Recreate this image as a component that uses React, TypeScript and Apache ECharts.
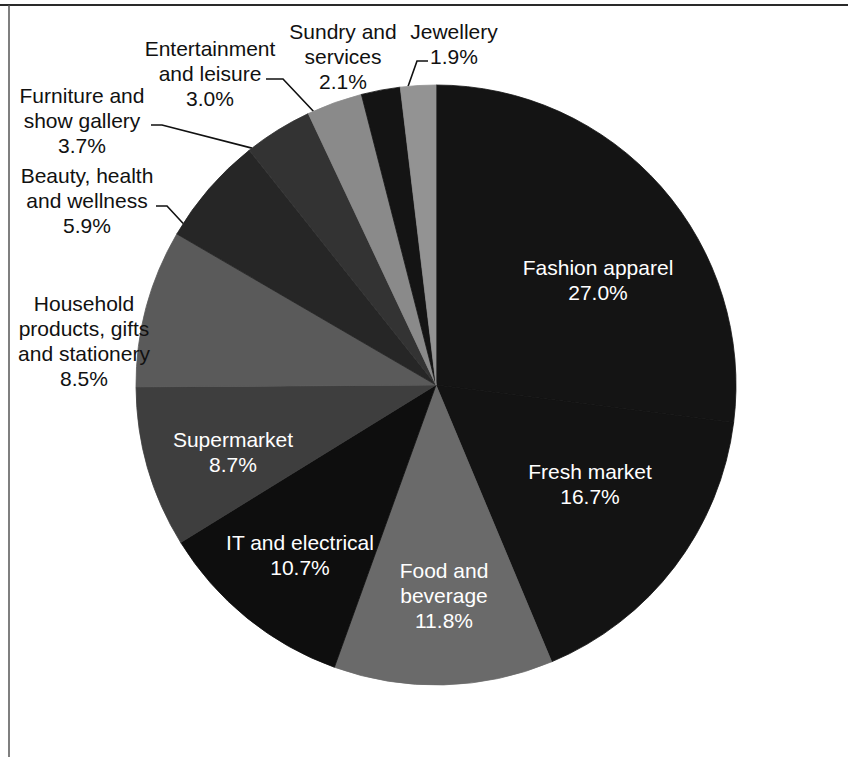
import React, { useEffect, useRef } from "react";
import * as echarts from "echarts";

// ---- data ----
const categories = [
  "Fashion apparel",
  "Fresh market",
  "Food and beverage",
  "IT and electrical",
  "Supermarket",
  "Household products, gifts and stationery",
  "Beauty, health and wellness",
  "Furniture and show gallery",
  "Entertainment and leisure",
  "Sundry and services",
  "Jewellery",
];
const values = [27.0, 16.7, 11.8, 10.7, 8.7, 8.5, 5.9, 3.7, 3.0, 2.1, 1.9];
const labelTexts = [
  "Fashion apparel",
  "Fresh market",
  "Food and\nbeverage",
  "IT and electrical",
  "Supermarket",
  "Household\nproducts, gifts\nand stationery",
  "Beauty, health\nand wellness",
  "Furniture and\nshow gallery",
  "Entertainment\nand leisure",
  "Sundry and\nservices",
  "Jewellery",
];
const sliceColors = [
  "#141414", "#131313", "#6a6a6a", "#0e0e0e", "#3e3e3e", "#5a5a5a",
  "#262626", "#333333", "#8a8a8a", "#141414", "#939393",
];

// ---- layout (label placement) ----
const CX = 436;
const CY = 385;
const R = 300;
const labelCenters: [number, number][] = [
  [598, 280], [590, 484], [444, 595], [300, 555], [233, 452], [84, 341],
  [87, 200], [82, 120], [210, 73], [343, 56], [454, 44],
];
const whiteText = [true, true, true, true, true, false, false, false, false, false, false];
// leader lines: end point near text, elbow, anchor fraction inside the slice
const leaders: Record<number, { end: [number, number]; elbow: [number, number]; frac: number }> = {
  6: { end: [156, 206], elbow: [167, 206], frac: 0.11 },
  7: { end: [151, 125], elbow: [162, 125], frac: 0.05 },
  8: { end: [266, 79], elbow: [283, 79], frac: 0.1 },
  10: { end: [428, 61], elbow: [417, 61], frac: 0.22 },
};

const FONT = "'Liberation Sans', Arial, Helvetica, sans-serif";

export default function App() {
  const ref = useRef<HTMLDivElement>(null);
  useEffect(() => {
    if (!ref.current) return;
    const chart = echarts.init(ref.current, null, { renderer: "svg" });
    const total = values.reduce((a, b) => a + b, 0);
    const starts: number[] = [];
    let acc = 0;
    values.forEach((v) => {
      starts.push(acc);
      acc += v;
    });
    const anchorOf = (i: number, frac: number): [number, number] => {
      const deg = ((starts[i] + values[i] * frac) / total) * 360;
      const rad = (deg * Math.PI) / 180;
      return [CX + R * Math.sin(rad), CY - R * Math.cos(rad)];
    };

    const data = categories.map((name, i) => {
      const hasLeader = leaders[i] != null;
      return {
        name,
        value: values[i],
        itemStyle: { color: sliceColors[i], borderColor: sliceColors[i], borderWidth: 0.8 },
        label: {
          formatter: labelTexts[i] + "\n" + values[i].toFixed(1) + "%",
          color: whiteText[i] ? "#ffffff" : "#111111",
        },
        labelLine: {
          show: hasLeader,
          lineStyle: { color: "#111111", width: 1.6 },
        },
      };
    });

    chart.setOption({
      animation: false,
      backgroundColor: "#ffffff",
      graphic: [
        {
          type: "line",
          shape: { x1: 0, y1: 5, x2: 848, y2: 5 },
          style: { stroke: "#2a2a2a", lineWidth: 2 },
        },
        {
          type: "line",
          shape: { x1: 9, y1: 5, x2: 9, y2: 757 },
          style: { stroke: "#555555", lineWidth: 1.5 },
        },
      ],
      series: [
        {
          type: "pie",
          center: [CX, CY],
          radius: R,
          startAngle: 90,
          clockwise: true,
          avoidLabelOverlap: false,
          emphasis: { disabled: true },
          label: {
            show: true,
            position: "outside",
            fontSize: 21,
            lineHeight: 25,
            fontFamily: FONT,
            align: "center",
          },
          labelLine: { show: true, length: 10, length2: 10 },
          labelLayout: (params: any) => {
            const i = params.dataIndex;
            const [x, y] = labelCenters[i];
            const out: any = { x, y, align: "center", verticalAlign: "middle" };
            const ld = leaders[i];
            if (ld) {
              out.labelLinePoints = [anchorOf(i, ld.frac), ld.elbow, ld.end];
            }
            return out;
          },
          data,
        },
      ],
    });
    return () => chart.dispose();
  }, []);
  return (
    <div
      ref={ref}
      style={{ position: "absolute", left: 0, top: 0, width: 848, height: 757 }}
    />
  );
}
